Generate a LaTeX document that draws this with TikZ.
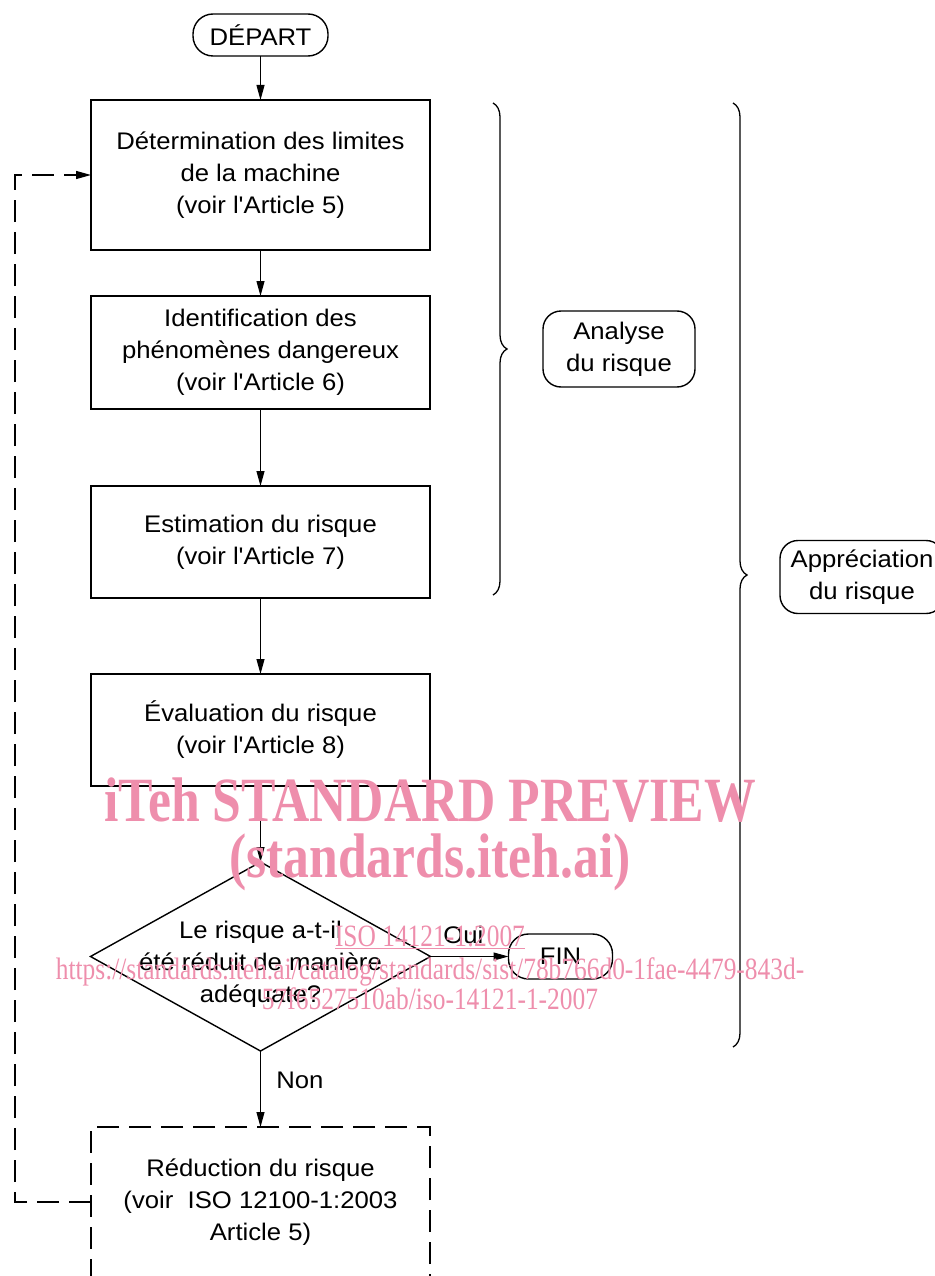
\documentclass[tikz,border=0pt]{standalone}
\usepackage{fontspec}
\setmainfont{Liberation Sans}[FakeStretch=1.07, Ligatures=TeXOff]
\newfontfamily\wmfont{Liberation Serif}[FakeStretch=0.82]
\usetikzlibrary{arrows.meta, decorations.pathreplacing, positioning, shapes.geometric}
\definecolor{wmpink}{RGB}{238,142,172}
\newcommand{\boxfont}{\fontsize{24}{32}\selectfont}
\tikzset{
    stepbox/.style={rectangle, draw=black, line width=1.4pt, align=center,
        minimum width=339pt, inner sep=0pt, outer sep=0pt, font=\boxfont},
    dashbox/.style={dash pattern=on 22pt off 10pt},
    term/.style={rectangle, rounded corners=20pt, draw=black, line width=1.4pt,
        minimum height=42pt, inner sep=0pt, outer sep=0pt, font=\boxfont},
    sidebox/.style={rectangle, rounded corners=18pt, draw=black, line width=1.4pt,
        align=center, inner sep=0pt, outer sep=0pt, font=\boxfont},
    decision/.style={diamond, draw=black, line width=1.4pt, minimum width=340pt,
        minimum height=189pt, inner sep=0pt, outer sep=0pt},
    arrow/.style={-{Triangle[length=15pt, width=8pt]}, line width=1pt},
    backline/.style={arrow, dash pattern=on 22pt off 10pt, line width=1.2pt},
    brace/.style={decorate, decoration={brace, amplitude=14pt}, line width=1.3pt},
    watermark/.style={text=wmpink, anchor=base, inner sep=0pt},
}

\begin{document}
\begin{tikzpicture}[x=1pt, y=1pt]
    \useasboundingbox (0,0) rectangle (934,-1276);
    \node[term, minimum width=135pt] (depart) at (260.5,-35) {DÉPART};
    \node[stepbox, minimum height=150pt, below=44pt of depart] (limites) {Détermination des limites\\de la machine\\(voir l'Article 5)};
    \node[stepbox, minimum height=113pt, below=46pt of limites] (phenomenes) {Identification des\\phénomènes dangereux\\(voir l'Article 6)};
    \node[stepbox, minimum height=112pt, below=77pt of phenomenes] (estimation) {Estimation du risque\\(voir l'Article 7)};
    \node[stepbox, minimum height=112pt, below=76pt of estimation] (evaluation) {Évaluation du risque\\(voir l'Article 8)};
    \node[decision, below=76pt of evaluation] (question) {};
    \node[font=\boxfont, align=center, inner sep=0pt] (questiontxt) at ([yshift=-8pt]question.center) {Le risque a-t-il\\été réduit de manière\\adéquate?};
    \node[term, minimum width=104pt, minimum height=45pt, right=78pt of question] (fin) {FIN};
    \node[stepbox, dashbox, minimum height=150pt, below=76pt of question] (reduction) {Réduction du risque\\(voir~ ISO 12100-1:2003\\Article 5)};

    % braces and what they group
    \coordinate (analyse top) at (493,-103);
    \coordinate (analyse bot) at (493,-595);
    \coordinate (appreciation top) at (733,-103);
    \coordinate (appreciation bot) at (733,-1047);
    \draw[brace] (analyse top) -- (analyse bot);
    \draw[brace] (appreciation top) -- (appreciation bot);
    \node[sidebox, minimum width=152pt, minimum height=76pt] (analyse) at (619,-349) {Analyse\\du risque};
    \node[sidebox, minimum width=164pt, minimum height=73pt] (appreciation) at (862,-577) {Appréciation\\du risque};

    \draw[arrow] (depart) -- (limites);
    \draw[arrow] (limites) -- (phenomenes);
    \draw[arrow] (phenomenes) -- (estimation);
    \draw[arrow] (estimation) -- (evaluation);
    \draw[arrow] (evaluation) -- (question);
    \draw[arrow] (question) -- node[above, pos=0.42, font=\boxfont, inner sep=12pt] (oui) {Oui} (fin);
    \draw[arrow] (question) -- node[right, pos=0.38, xshift=12pt, font=\boxfont] (non) {Non} (reduction);
    \draw[backline] (reduction.west) -- ++(-76,0) |- (limites.west);

    % preview stamp
    \node[watermark, font=\wmfont\bfseries\fontsize{63}{63}\selectfont] (wmtitle) at (430,-821) {iTeh STANDARD PREVIEW};
    \node[watermark, font=\wmfont\bfseries\fontsize{63}{63}\selectfont] (wmsite) at (430,-877) {(standards.iteh.ai)};
    \node[watermark, font=\wmfont\fontsize{31}{31}\selectfont] (wmiso) at (430,-946) {\underline{ISO 14121-1:2007}};
    \node[watermark, font=\wmfont\fontsize{31}{31}\selectfont] (wmurl) at (430,-979) {https://standards.iteh.ai/catalog/standards/sist/78b766d0-1fae-4479-843d-};
    \node[watermark, font=\wmfont\fontsize{31}{31}\selectfont] (wmurlend) at (430,-1009) {57f6527510ab/iso-14121-1-2007};
\end{tikzpicture}
\end{document}
